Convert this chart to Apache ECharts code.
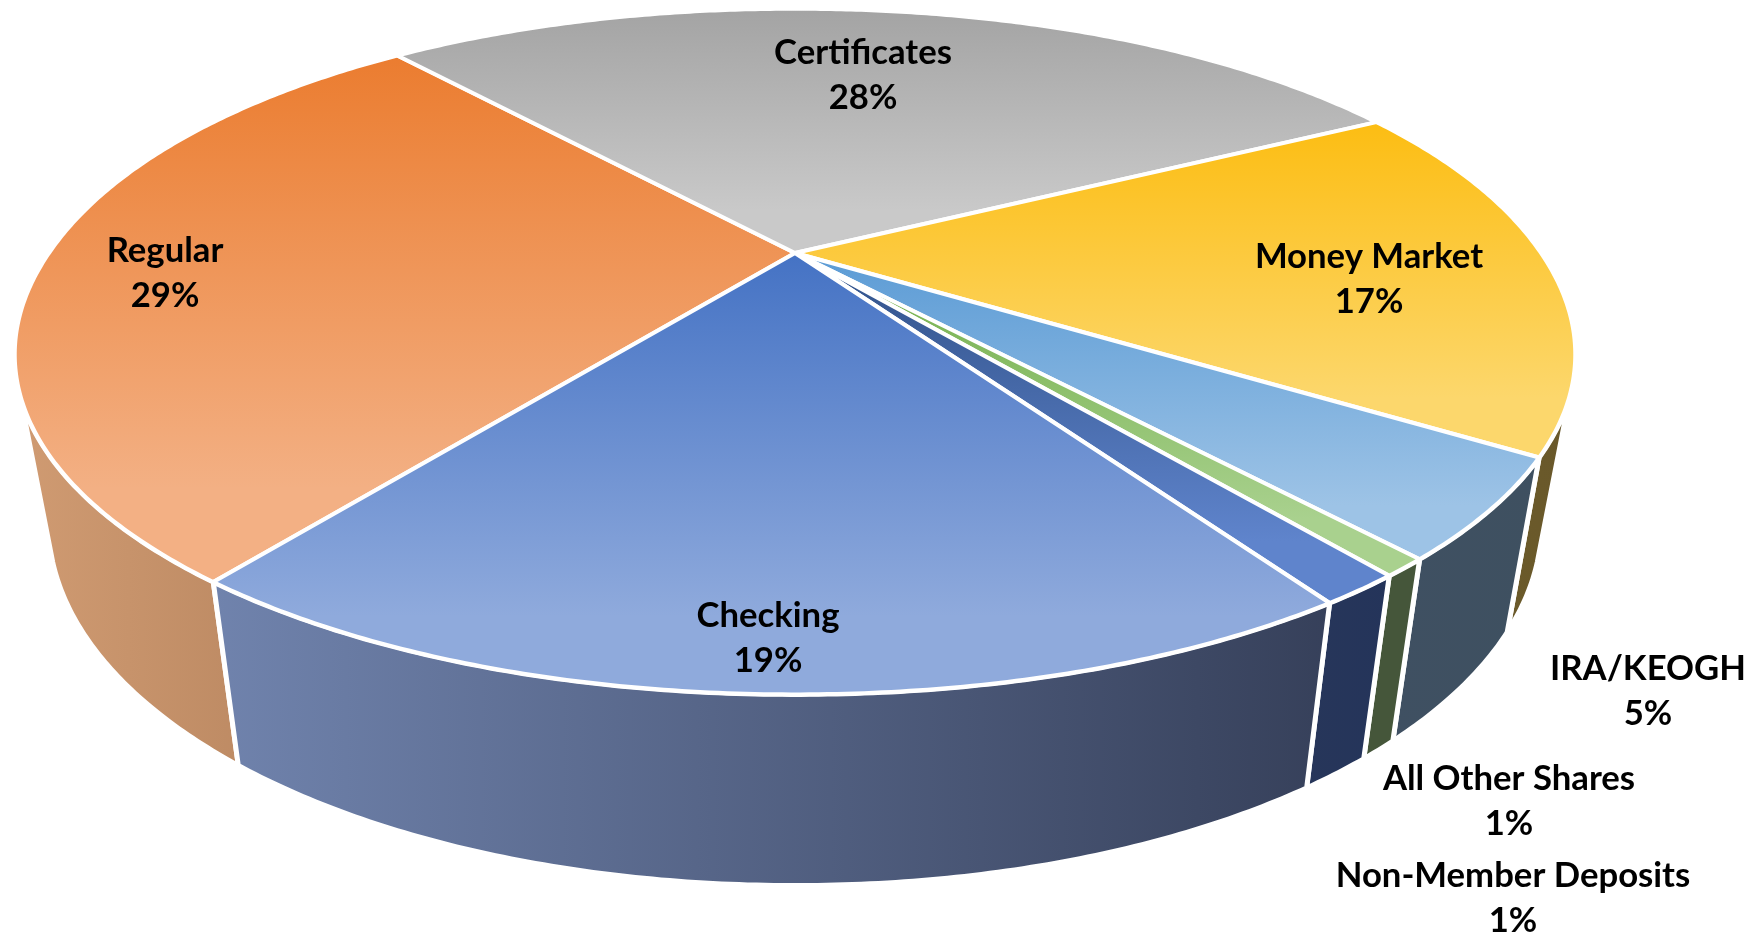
<!DOCTYPE html>
<html>
<head>
<meta charset="utf-8">
<title>Share mix</title>
<style>
  html, body { margin: 0; padding: 0; background: #fff; }
  #container { width: 1757px; height: 936px; }
</style>
<script src="https://cdn.jsdelivr.net/npm/echarts@6/dist/echarts.min.js"></script>
</head>
<body>
<div id="container"></div>
<script>
"use strict";

// slice shares (labels show them rounded)
const categories = ["Regular", "Certificates", "Money Market", "IRA/KEOGH", "All Other Shares", "Non-Member Deposits", "Checking"];
const shares = [28.6, 28.4, 17.0, 4.5, 0.8, 1.4, 19.3];

const topColors = [
  ['#EB7C2F', '#F3B084'],
  ['#A3A3A3', '#C9C9C9'],
  ['#FCBD12', '#FCD76C'],
  ['#5B9BD5', '#9DC3E6'],
  ['#70AD47', '#A9D18E'],
  ['#2F5087', '#5F84CC'],
  ['#4472C4', '#8FAADC'],
];
const wallColors = [
  ['#D09B72', '#BE8B64'],
  ['#8A8A8A', '#6A6A6A'],
  ['#6B5A2A', '#69582A'],
  ['#3F5062', '#3E5060'],
  ['#45563A', '#45563A'],
  ['#27365A', '#24345A'],
  ['#7083AD', '#36405A'],
];
// label centres, the outer three sit beside the pie
const labelSpots = [
  [165, 273], [863, 75], [1369, 279], [1648, 691], [1509, 801], [1513, 898], [768, 638],
];

// camera for the tilted disc: near edge is bigger than far edge
const firstAngle = 216.7;
const apex = [795, 253];
const tilt = 0.2875;
const radiusX = 746;
const radiusY = 314.5;
const floorY = 414;
const floorRadiusY = 336;
const floorShrink = 0.957;
// the rim looks a touch fuller than a true ellipse
const rimPower = 2.025;
// the wall is only seen between these two angles
const wallFrom = 113;
const wallTo = 247;

function project(deg, isFloor) {
  let a = deg * Math.PI / 180;
  let u = Math.sin(a);
  let v = -Math.cos(a);
  let w = 1 - tilt * v;
  let full = Math.pow(Math.pow(Math.abs(u), rimPower) + Math.pow(Math.abs(v), rimPower), -1 / rimPower);
  if (isFloor) {
    return [apex[0] + floorShrink * radiusX * full * u / w, floorY + floorRadiusY * full * v / w];
  }
  return [apex[0] + radiusX * full * u / w, apex[1] + radiusY * full * v / w];
}

function arc(from, to, isFloor) {
  let pts = [];
  let n = Math.max(2, Math.ceil((to - from) * 2));
  for (let i = 0; i <= n; i++) {
    pts.push(project(from + (to - from) * i / n, isFloor));
  }
  return pts;
}

let total = shares.reduce((s, d) => s + d, 0);
function sliceRange(index) {
  let before = shares.slice(0, index).reduce((s, d) => s + d, 0);
  let from = firstAngle + before / total * 360;
  return [from, from + shares[index] / total * 360];
}

function gradient(pair, horizontal, end) {
  return new echarts.graphic.LinearGradient(0, 0, horizontal ? 1 : 0, horizontal ? 0 : 1, [
    { offset: 0, color: pair[0] },
    { offset: end, color: pair[1] },
    { offset: 1, color: pair[1] },
  ]);
}

function renderWall(params, api) {
  let i = params.dataIndex;
  let range = sliceRange(i);
  // first slice runs over 360 at its far end, keep everything in 0..360
  let from = range[0] % 360;
  let to = from + (range[1] - range[0]);
  from = Math.max(from, wallFrom);
  to = Math.min(to, wallTo);
  if (to <= from) {
    return null;
  }
  let top = arc(from, to, false);
  let floor = arc(from, to, true).reverse();
  return {
    type: 'polygon',
    shape: { points: top.concat(floor) },
    style: { fill: gradient(wallColors[i], true, 1), stroke: '#fff', lineWidth: 5, lineJoin: 'round' },
  };
}

function renderTop(params, api) {
  let i = params.dataIndex;
  let range = sliceRange(i);
  return {
    type: 'polygon',
    shape: { points: [apex].concat(arc(range[0], range[1], false)) },
    style: { fill: gradient(topColors[i], false, 0.82), stroke: '#fff', lineWidth: 4, lineJoin: 'round' },
  };
}

function renderLabel(params, api) {
  let i = params.dataIndex;
  return {
    type: 'text',
    x: labelSpots[i][0],
    y: labelSpots[i][1],
    style: {
      text: categories[i] + '\n' + Math.round(api.value(0)) + '%',
      fill: '#000',
      font: 'bold 34.7px Lato',
      lineHeight: 45,
      align: 'center',
      verticalAlign: 'middle',
    },
  };
}

let myChart = echarts.init(document.getElementById('container'), null, { renderer: 'canvas' });

let option = {
  animation: false,
  backgroundColor: '#fff',
  series: [
    { type: 'custom', coordinateSystem: 'none', z: 1, silent: true, data: shares, renderItem: renderWall },
    { type: 'custom', coordinateSystem: 'none', z: 2, silent: true, data: shares, renderItem: renderTop },
    { type: 'custom', coordinateSystem: 'none', z: 3, silent: true, data: shares, renderItem: renderLabel },
  ],
};

myChart.setOption(option);
</script>
</body>
</html>
